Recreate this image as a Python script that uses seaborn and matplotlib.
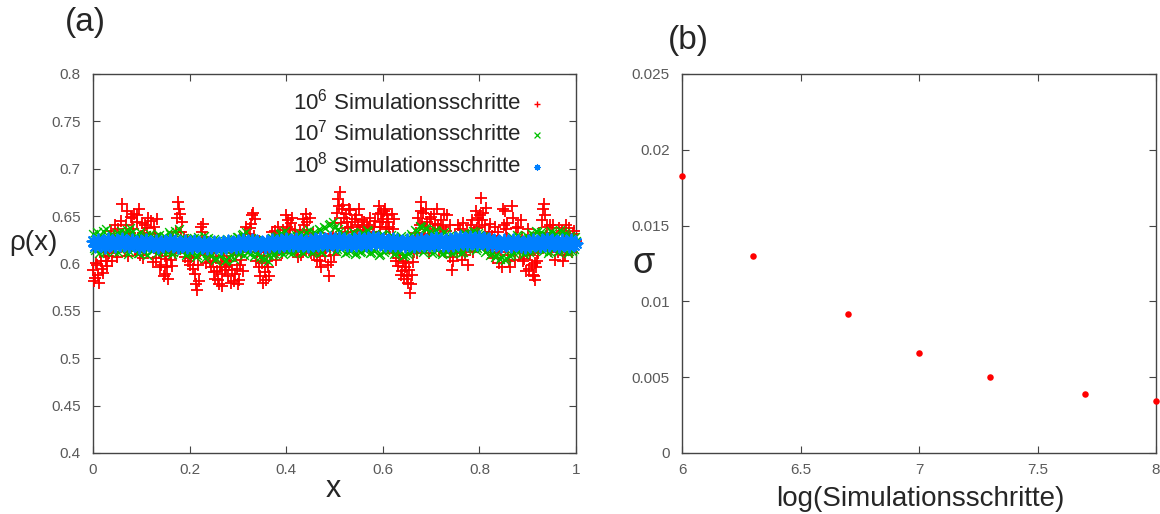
import numpy as np
import pandas as pd
import matplotlib
matplotlib.use("Agg")
import matplotlib.pyplot as plt
import seaborn as sns

# ---------------------------------------------------------------- data
# density profile rho(x) after 10^6 simulation steps, 500 bins on [0, 1]
# even bins: x = 0, 0.004, ..., 1
rho_1e6_even = [
    0.593, 0.585, 0.598, 0.579, 0.603, 0.590, 0.612, 0.597, 0.608, 0.621,
    0.603, 0.628, 0.612, 0.636, 0.617, 0.663, 0.624, 0.641, 0.608, 0.632,
    0.648, 0.652, 0.613, 0.644, 0.658, 0.629, 0.606, 0.641, 0.637, 0.618,
    0.645, 0.602, 0.631, 0.647, 0.611, 0.598, 0.623, 0.589, 0.605, 0.584,
    0.612, 0.597, 0.619, 0.633, 0.665, 0.652, 0.644, 0.628, 0.611, 0.603,
    0.598, 0.613, 0.606, 0.589, 0.572, 0.581, 0.638, 0.642, 0.627, 0.609,
    0.611, 0.596, 0.603, 0.584, 0.592, 0.578, 0.601, 0.589, 0.614, 0.596,
    0.587, 0.603, 0.593, 0.581, 0.609, 0.578, 0.598, 0.612, 0.624, 0.638,
    0.631, 0.619, 0.642, 0.653, 0.647, 0.612, 0.596, 0.608, 0.579, 0.591,
    0.603, 0.587, 0.616, 0.628, 0.634, 0.612, 0.625, 0.631, 0.611, 0.618,
    0.651, 0.646, 0.636, 0.648, 0.615, 0.626, 0.607, 0.633, 0.619, 0.641,
    0.652, 0.644, 0.623, 0.611, 0.632, 0.618, 0.604, 0.621, 0.596, 0.613,
    0.608, 0.623, 0.587, 0.602, 0.631, 0.643, 0.616, 0.668, 0.675, 0.657,
    0.648, 0.652, 0.637, 0.656, 0.644, 0.629, 0.651, 0.641, 0.635, 0.646,
    0.638, 0.632, 0.641, 0.637, 0.619, 0.633, 0.645, 0.628, 0.661, 0.653,
    0.647, 0.658, 0.651, 0.639, 0.621, 0.611, 0.647, 0.603, 0.597, 0.609,
    0.592, 0.584, 0.601, 0.579, 0.569, 0.588, 0.612, 0.632, 0.648, 0.641,
    0.665, 0.653, 0.638, 0.644, 0.611, 0.649, 0.636, 0.642, 0.657, 0.613,
    0.646, 0.639, 0.612, 0.651, 0.624, 0.607, 0.593, 0.617, 0.628, 0.641,
    0.636, 0.604, 0.622, 0.613, 0.598, 0.627, 0.646, 0.633, 0.655, 0.648,
    0.638, 0.669, 0.653, 0.641, 0.628, 0.633, 0.617, 0.606, 0.639, 0.624,
    0.601, 0.612, 0.657, 0.655, 0.627, 0.609, 0.596, 0.661, 0.618, 0.637,
    0.639, 0.612, 0.628, 0.605, 0.592, 0.636, 0.609, 0.598, 0.587, 0.583,
    0.603, 0.632, 0.617, 0.658, 0.651, 0.638, 0.627, 0.613, 0.641, 0.604,
    0.626, 0.637, 0.616, 0.603, 0.632, 0.641, 0.621, 0.628, 0.612, 0.634,
    0.624,
]
# odd bins: x = 0.002, 0.006, ..., 0.998
rho_1e6_odd = [
    0.581, 0.601, 0.588, 0.612, 0.594, 0.617, 0.603, 0.626, 0.611, 0.634,
    0.619, 0.641, 0.607, 0.627, 0.645, 0.631, 0.613, 0.655, 0.622, 0.649,
    0.636, 0.614, 0.651, 0.627, 0.609, 0.643, 0.632, 0.616, 0.648, 0.628,
    0.617, 0.639, 0.606, 0.624, 0.596, 0.613, 0.587, 0.608, 0.596, 0.621,
    0.604, 0.626, 0.611, 0.648, 0.657, 0.633, 0.619, 0.607, 0.625, 0.612,
    0.607, 0.594, 0.618, 0.578, 0.598, 0.613, 0.633, 0.612, 0.601, 0.623,
    0.602, 0.614, 0.591, 0.607, 0.583, 0.596, 0.576, 0.608, 0.593, 0.603,
    0.598, 0.579, 0.611, 0.589, 0.594, 0.583, 0.604, 0.592, 0.631, 0.617,
    0.626, 0.637, 0.651, 0.629, 0.603, 0.618, 0.587, 0.601, 0.612, 0.583,
    0.596, 0.611, 0.633, 0.618, 0.604, 0.639, 0.614, 0.624, 0.635, 0.628,
    0.638, 0.628, 0.643, 0.621, 0.635, 0.612, 0.624, 0.609, 0.647, 0.626,
    0.635, 0.617, 0.648, 0.626, 0.609, 0.627, 0.612, 0.603, 0.618, 0.627,
    0.616, 0.598, 0.614, 0.621, 0.609, 0.628, 0.653, 0.661, 0.643, 0.662,
    0.633, 0.644, 0.658, 0.638, 0.622, 0.647, 0.634, 0.657, 0.627, 0.639,
    0.644, 0.626, 0.636, 0.648, 0.627, 0.639, 0.621, 0.652, 0.638, 0.644,
    0.655, 0.636, 0.644, 0.628, 0.652, 0.636, 0.617, 0.622, 0.606, 0.588,
    0.603, 0.596, 0.587, 0.593, 0.578, 0.602, 0.621, 0.611, 0.627, 0.655,
    0.642, 0.628, 0.658, 0.631, 0.647, 0.624, 0.652, 0.618, 0.641, 0.636,
    0.628, 0.652, 0.634, 0.619, 0.641, 0.612, 0.603, 0.629, 0.611, 0.622,
    0.617, 0.643, 0.609, 0.634, 0.619, 0.641, 0.612, 0.628, 0.637, 0.624,
    0.651, 0.646, 0.628, 0.659, 0.614, 0.642, 0.629, 0.621, 0.612, 0.633,
    0.618, 0.596, 0.641, 0.636, 0.643, 0.603, 0.621, 0.648, 0.604, 0.627,
    0.621, 0.646, 0.603, 0.617, 0.611, 0.594, 0.624, 0.588, 0.601, 0.596,
    0.611, 0.624, 0.646, 0.663, 0.629, 0.618, 0.641, 0.632, 0.622, 0.617,
    0.612, 0.621, 0.634, 0.624, 0.609, 0.628, 0.637, 0.615, 0.631, 0.619,
]

# density profile after 10^7 simulation steps, 400 bins on [0, 1]
# even bins: x = 0, 0.005, ..., 1
rho_1e7_even = [
    0.631, 0.614, 0.628, 0.619, 0.634, 0.612, 0.626, 0.617, 0.629, 0.621,
    0.632, 0.615, 0.630, 0.618, 0.635, 0.613, 0.633, 0.620, 0.628, 0.611,
    0.627, 0.612, 0.630, 0.616, 0.625, 0.614, 0.629, 0.618, 0.623, 0.613,
    0.628, 0.617, 0.631, 0.612, 0.634, 0.619, 0.626, 0.615, 0.622, 0.611,
    0.625, 0.613, 0.627, 0.609, 0.624, 0.615, 0.629, 0.611, 0.621, 0.608,
    0.626, 0.606, 0.623, 0.610, 0.619, 0.604, 0.625, 0.609, 0.617, 0.612,
    0.628, 0.611, 0.631, 0.614, 0.626, 0.610, 0.624, 0.612, 0.620, 0.607,
    0.623, 0.605, 0.618, 0.609, 0.627, 0.611, 0.629, 0.613, 0.632, 0.615,
    0.628, 0.612, 0.624, 0.617, 0.630, 0.614, 0.627, 0.611, 0.633, 0.616,
    0.629, 0.613, 0.631, 0.618, 0.635, 0.612, 0.637, 0.619, 0.642, 0.621,
    0.638, 0.615, 0.633, 0.617, 0.630, 0.612, 0.628, 0.614, 0.632, 0.611,
    0.627, 0.613, 0.631, 0.616, 0.634, 0.612, 0.629, 0.615, 0.626, 0.610,
    0.630, 0.614, 0.625, 0.617, 0.628, 0.611, 0.623, 0.613, 0.627, 0.609,
    0.624, 0.612, 0.629, 0.615, 0.633, 0.618, 0.638, 0.614, 0.636, 0.617,
    0.632, 0.612, 0.634, 0.616, 0.629, 0.611, 0.631, 0.614, 0.627, 0.613,
    0.625, 0.615, 0.628, 0.612, 0.631, 0.617, 0.629, 0.619, 0.633, 0.616,
    0.630, 0.618, 0.627, 0.614, 0.624, 0.611, 0.622, 0.609, 0.620, 0.607,
    0.618, 0.606, 0.623, 0.610, 0.626, 0.613, 0.629, 0.615, 0.625, 0.612,
    0.627, 0.614, 0.630, 0.616, 0.633, 0.618, 0.631, 0.615, 0.628, 0.613,
    0.632, 0.617, 0.629, 0.614, 0.633, 0.616, 0.630, 0.613, 0.627, 0.615,
    0.624,
]
# odd bins: x = 0.0025, 0.0075, ..., 0.9975
rho_1e7_odd = [
    0.616, 0.633, 0.611, 0.629, 0.614, 0.636, 0.618, 0.631, 0.613, 0.627,
    0.612, 0.634, 0.617, 0.632, 0.610, 0.637, 0.615, 0.629, 0.611, 0.633,
    0.614, 0.628, 0.609, 0.631, 0.615, 0.627, 0.611, 0.630, 0.613, 0.629,
    0.612, 0.633, 0.610, 0.628, 0.614, 0.636, 0.613, 0.627, 0.609, 0.625,
    0.611, 0.626, 0.607, 0.628, 0.612, 0.625, 0.606, 0.627, 0.610, 0.623,
    0.604, 0.624, 0.608, 0.621, 0.603, 0.626, 0.607, 0.622, 0.605, 0.628,
    0.612, 0.630, 0.609, 0.633, 0.613, 0.627, 0.608, 0.625, 0.611, 0.622,
    0.606, 0.621, 0.603, 0.625, 0.609, 0.628, 0.612, 0.631, 0.610, 0.634,
    0.613, 0.629, 0.611, 0.627, 0.615, 0.632, 0.612, 0.630, 0.614, 0.635,
    0.611, 0.633, 0.614, 0.636, 0.612, 0.639, 0.616, 0.641, 0.618, 0.644,
    0.613, 0.636, 0.615, 0.631, 0.611, 0.629, 0.613, 0.633, 0.610, 0.630,
    0.612, 0.632, 0.614, 0.635, 0.611, 0.630, 0.613, 0.628, 0.609, 0.631,
    0.612, 0.627, 0.614, 0.630, 0.610, 0.626, 0.612, 0.629, 0.608, 0.625,
    0.610, 0.631, 0.613, 0.635, 0.616, 0.640, 0.612, 0.637, 0.615, 0.634,
    0.611, 0.635, 0.614, 0.631, 0.610, 0.633, 0.612, 0.629, 0.611, 0.627,
    0.613, 0.630, 0.611, 0.632, 0.615, 0.631, 0.617, 0.634, 0.614, 0.632,
    0.616, 0.629, 0.612, 0.626, 0.609, 0.624, 0.607, 0.622, 0.605, 0.620,
    0.604, 0.625, 0.608, 0.628, 0.611, 0.630, 0.613, 0.627, 0.610, 0.629,
    0.612, 0.632, 0.614, 0.634, 0.616, 0.633, 0.613, 0.630, 0.611, 0.634,
    0.615, 0.631, 0.612, 0.635, 0.614, 0.632, 0.611, 0.629, 0.613, 0.628,
]

# density profile after 10^8 simulation steps (x = 0 ... 1, step 0.005)
rho_1e8 = [
    0.624, 0.618, 0.625, 0.619, 0.623, 0.617, 0.626, 0.620, 0.624, 0.618,
    0.625, 0.619, 0.626, 0.620, 0.624, 0.618, 0.625, 0.619, 0.623, 0.617,
    0.624, 0.618, 0.625, 0.619, 0.623, 0.618, 0.624, 0.617, 0.623, 0.618,
    0.624, 0.619, 0.625, 0.618, 0.624, 0.617, 0.623, 0.618, 0.624, 0.617,
    0.623, 0.617, 0.624, 0.618, 0.622, 0.617, 0.623, 0.616, 0.622, 0.617,
    0.623, 0.617, 0.622, 0.616, 0.623, 0.617, 0.624, 0.618, 0.623, 0.617,
    0.624, 0.618, 0.625, 0.619, 0.624, 0.618, 0.625, 0.619, 0.624, 0.618,
    0.623, 0.617, 0.624, 0.618, 0.625, 0.619, 0.624, 0.618, 0.625, 0.619,
    0.626, 0.620, 0.625, 0.619, 0.626, 0.620, 0.625, 0.619, 0.624, 0.618,
    0.625, 0.619, 0.626, 0.620, 0.627, 0.621, 0.626, 0.620, 0.627, 0.621,
    0.626, 0.620, 0.627, 0.621, 0.626, 0.620, 0.625, 0.619, 0.626, 0.620,
    0.627, 0.621, 0.626, 0.620, 0.627, 0.621, 0.628, 0.622, 0.627, 0.621,
    0.626, 0.620, 0.625, 0.619, 0.626, 0.620, 0.625, 0.619, 0.624, 0.618,
    0.625, 0.619, 0.624, 0.618, 0.625, 0.619, 0.626, 0.620, 0.625, 0.619,
    0.626, 0.620, 0.627, 0.621, 0.626, 0.620, 0.625, 0.619, 0.626, 0.620,
    0.627, 0.621, 0.628, 0.622, 0.627, 0.621, 0.628, 0.622, 0.627, 0.621,
    0.628, 0.622, 0.627, 0.621, 0.626, 0.620, 0.625, 0.619, 0.624, 0.618,
    0.625, 0.619, 0.624, 0.618, 0.625, 0.619, 0.624, 0.618, 0.623, 0.617,
    0.624, 0.618, 0.625, 0.619, 0.624, 0.618, 0.625, 0.619, 0.626, 0.620,
    0.625, 0.619, 0.624, 0.618, 0.625, 0.619, 0.624, 0.618, 0.625, 0.619,
    0.622,
]

# standard deviation of the profile vs. log10(number of simulation steps)
log_steps = [6.0, 6.301, 6.699, 7.0, 7.301, 7.699, 8.0]
sigma = [0.0183, 0.0130, 0.0092, 0.0066, 0.0050, 0.0039, 0.0034]

series_labels = [
    r"$\mathregular{10^6}$ Simulationsschritte",
    r"$\mathregular{10^7}$ Simulationsschritte",
    r"$\mathregular{10^8}$ Simulationsschritte",
]

xticks_a = [0, 0.2, 0.4, 0.6, 0.8, 1]
xticklabels_a = ["0", "0.2", "0.4", "0.6", "0.8", "1"]
yticks_a = [0.4, 0.45, 0.5, 0.55, 0.6, 0.65, 0.7, 0.75, 0.8]
yticklabels_a = ["0.4", "0.45", "0.5", "0.55", "0.6", "0.65", "0.7", "0.75", "0.8"]
xticks_b = [6, 6.5, 7, 7.5, 8]
xticklabels_b = ["6", "6.5", "7", "7.5", "8"]
yticks_b = [0, 0.005, 0.01, 0.015, 0.02, 0.025]
yticklabels_b = ["0", "0.005", "0.01", "0.015", "0.02", "0.025"]

# ---------------------------------------------------------------- style
sns.set_style("white")
plt.rcParams["font.family"] = ["Liberation Sans", "DejaVu Sans"]
plt.rcParams["mathtext.fontset"] = "custom"
plt.rcParams["mathtext.rm"] = "Liberation Sans"
plt.rcParams["mathtext.it"] = "Liberation Sans:italic"
plt.rcParams["mathtext.bf"] = "Liberation Sans:bold"

RED = "#ff0000"
GREEN = "#00c000"
BLUE = "#0080ff"
FRAME = "#444444"
TICKTXT = "#5a5a5a"

fig = plt.figure(figsize=(11.6, 5.14), dpi=100)
ax_a = fig.add_axes([0.0802, 0.1187, 0.4164, 0.7374])
ax_b = fig.add_axes([0.5880, 0.1187, 0.4086, 0.7374])


def frame(ax):
    for sp in ax.spines.values():
        sp.set_color(FRAME)
        sp.set_linewidth(1.0)
    ax.tick_params(direction="in", length=5, width=0.8, color=FRAME,
                   top=True, right=True, bottom=True, left=True,
                   labelsize=11, labelcolor=TICKTXT)
    ax.tick_params(axis="x", pad=7)
    ax.tick_params(axis="y", pad=9)


def interleave(even, odd):
    out = []
    for i, v in enumerate(even):
        out.append(v)
        if i < len(odd):
            out.append(odd[i])
    return out


rho_1e6 = interleave(rho_1e6_even, rho_1e6_odd)
rho_1e7 = interleave(rho_1e7_even, rho_1e7_odd)

# ---------------------------------------------------------------- panel (a)
df_a = pd.concat([
    pd.DataFrame({"x": np.linspace(0, 1, len(rho_1e6)), "rho": rho_1e6, "run": series_labels[0]}),
    pd.DataFrame({"x": np.linspace(0, 1, len(rho_1e7)), "rho": rho_1e7, "run": series_labels[1]}),
    pd.DataFrame({"x": np.linspace(0, 1, len(rho_1e8)), "rho": rho_1e8, "run": series_labels[2]}),
])

styles = [
    dict(color=RED, marker="+", s=75, linewidth=1.3),
    dict(color=GREEN, marker="x", s=40, linewidth=1.0),
    dict(color=BLUE, marker=(8, 2, 0), s=75, linewidth=1.4),
]
for lab, st in zip(series_labels, styles):
    sub = df_a[df_a["run"] == lab]
    sns.scatterplot(data=sub, x="x", y="rho", ax=ax_a, label=lab,
                    clip_on=False, zorder=3, **st)

ax_a.set_xlim(0, 1)
ax_a.set_ylim(0.4, 0.8)
ax_a.set_xticks(xticks_a)
ax_a.set_xticklabels(xticklabels_a)
ax_a.set_yticks(yticks_a)
ax_a.set_yticklabels(yticklabels_a)
frame(ax_a)

ax_a.set_xlabel("x", fontsize=22)
ax_a.xaxis.set_label_coords(0.497, -0.055)
ax_a.set_ylabel("ρ(x)", fontsize=20, rotation=0, ha="center", va="center")
ax_a.yaxis.set_label_coords(-0.124, 0.554)

leg = ax_a.legend(loc="upper right", bbox_to_anchor=(0.955, 0.985),
                  frameon=False, markerfirst=False, fontsize=16,
                  handletextpad=0.3, labelspacing=0.25, borderaxespad=0,
                  handlelength=0.8)
# small key samples
for h, size, lw in zip(leg.legend_handles, [22, 18, 16], [1.0, 0.9, 0.9]):
    h.set_sizes([size])
    h.set_linewidths([lw])

# ---------------------------------------------------------------- panel (b)
df_b = pd.DataFrame({"log_steps": log_steps, "sigma": sigma})
sns.scatterplot(data=df_b, x="log_steps", y="sigma", ax=ax_b, color=RED,
                marker="o", s=22, linewidth=0, clip_on=False, zorder=3)
ax_b.set_xlim(6, 8)
ax_b.set_ylim(0, 0.025)
ax_b.set_xticks(xticks_b)
ax_b.set_xticklabels(xticklabels_b)
ax_b.set_yticks(yticks_b)
ax_b.set_yticklabels(yticklabels_b)
frame(ax_b)

ax_b.set_xlabel("log(Simulationsschritte)", fontsize=20)
ax_b.xaxis.set_label_coords(0.502, -0.088)
ax_b.set_ylabel("σ", fontsize=26, rotation=0, ha="center", va="center")
ax_b.yaxis.set_label_coords(-0.082, 0.50)

# panel letters
fig.text(0.074, 0.957, "(a)", fontsize=24, ha="center", va="center")
fig.text(0.593, 0.922, "(b)", fontsize=24, ha="center", va="center")

fig.savefig("out.png", dpi=100, facecolor="white")
